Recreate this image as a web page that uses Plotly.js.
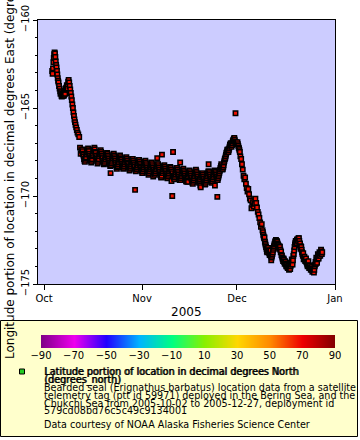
<!DOCTYPE html>
<html>
<head>
<meta charset="utf-8">
<script src="https://cdn.plot.ly/plotly-3.0.1.min.js"></script>
<style>html,body{margin:0;padding:0;background:#fff;}#chart{width:360px;height:440px;}</style>
</head>
<body>
<div id="chart"></div>
<script>
// ---- data (time, longitude in degrees East) ----
const octTimes = [
'2005-10-03 14','2005-10-03 17','2005-10-03 20','2005-10-03 23',
'2005-10-04 02','2005-10-04 05','2005-10-04 08','2005-10-04 11','2005-10-04 14','2005-10-04 17','2005-10-04 20','2005-10-04 23',
'2005-10-05 02','2005-10-05 05','2005-10-05 08','2005-10-05 11','2005-10-05 14','2005-10-05 18','2005-10-05 22',
'2005-10-06 03','2005-10-06 05','2005-10-06 08','2005-10-06 10','2005-10-06 13','2005-10-06 15','2005-10-06 18','2005-10-06 20','2005-10-06 23',
'2005-10-07 01','2005-10-07 04','2005-10-07 06','2005-10-07 09','2005-10-07 11','2005-10-07 14','2005-10-07 16','2005-10-07 19','2005-10-07 21',
'2005-10-08 00','2005-10-08 02','2005-10-08 05','2005-10-08 07','2005-10-08 10','2005-10-08 12','2005-10-08 15','2005-10-08 19','2005-10-08 23',
'2005-10-09 03','2005-10-09 07','2005-10-09 11','2005-10-09 15','2005-10-09 19','2005-10-09 23',
'2005-10-10 03','2005-10-10 07','2005-10-10 11','2005-10-10 15','2005-10-10 19','2005-10-10 23',
'2005-10-11 04','2005-10-11 09','2005-10-11 14','2005-10-11 20',
'2005-10-12 03','2005-10-12 09','2005-10-12 14','2005-10-12 19',
'2005-10-13 01','2005-10-13 04','2005-10-13 07','2005-10-13 10','2005-10-13 13','2005-10-13 16','2005-10-13 19','2005-10-13 22',
'2005-10-14 01','2005-10-14 04','2005-10-14 07','2005-10-14 10','2005-10-14 13','2005-10-14 16','2005-10-14 19','2005-10-14 22',
'2005-10-15 01','2005-10-15 04','2005-10-15 07','2005-10-15 10','2005-10-15 13','2005-10-15 16','2005-10-15 19','2005-10-15 22',
'2005-10-16 01','2005-10-16 04','2005-10-16 07','2005-10-16 10','2005-10-16 13','2005-10-16 16','2005-10-16 19','2005-10-16 22',
'2005-10-17 01','2005-10-17 04','2005-10-17 07','2005-10-17 10','2005-10-17 13','2005-10-17 16','2005-10-17 19','2005-10-17 22',
'2005-10-18 01','2005-10-18 04','2005-10-18 07','2005-10-18 10','2005-10-18 13','2005-10-18 16','2005-10-18 19','2005-10-18 22',
'2005-10-19 01','2005-10-19 04','2005-10-19 07','2005-10-19 10','2005-10-19 13','2005-10-19 16','2005-10-19 19','2005-10-19 22',
'2005-10-20 01','2005-10-20 04','2005-10-20 07','2005-10-20 10','2005-10-20 13','2005-10-20 16','2005-10-20 19','2005-10-20 22',
'2005-10-21 01','2005-10-21 04','2005-10-21 07','2005-10-21 10','2005-10-21 13','2005-10-21 16','2005-10-21 19','2005-10-21 22',
'2005-10-22 01','2005-10-22 04','2005-10-22 07','2005-10-22 10','2005-10-22 13','2005-10-22 16','2005-10-22 19','2005-10-22 22',
'2005-10-23 01','2005-10-23 04','2005-10-23 07','2005-10-23 10','2005-10-23 13','2005-10-23 16','2005-10-23 19','2005-10-23 22',
'2005-10-24 01','2005-10-24 04','2005-10-24 07','2005-10-24 10','2005-10-24 13','2005-10-24 16','2005-10-24 19','2005-10-24 22',
'2005-10-25 01','2005-10-25 04','2005-10-25 07','2005-10-25 10','2005-10-25 13','2005-10-25 16','2005-10-25 19','2005-10-25 22',
'2005-10-26 01','2005-10-26 04','2005-10-26 07','2005-10-26 10','2005-10-26 13','2005-10-26 16','2005-10-26 19','2005-10-26 22',
'2005-10-27 01','2005-10-27 04','2005-10-27 07','2005-10-27 10','2005-10-27 13','2005-10-27 16','2005-10-27 19','2005-10-27 22',
'2005-10-28 01','2005-10-28 04','2005-10-28 07','2005-10-28 10','2005-10-28 13','2005-10-28 16','2005-10-28 19','2005-10-28 22',
'2005-10-29 01','2005-10-29 04','2005-10-29 07','2005-10-29 10','2005-10-29 13','2005-10-29 16','2005-10-29 19','2005-10-29 22',
'2005-10-30 01','2005-10-30 04','2005-10-30 07','2005-10-30 10','2005-10-30 13','2005-10-30 16','2005-10-30 19','2005-10-30 22',
'2005-10-31 01','2005-10-31 04','2005-10-31 07','2005-10-31 10','2005-10-31 13','2005-10-31 16','2005-10-31 19','2005-10-31 22'
];
const octLons = [
-162.9,-163.05,-162.75,-162.4,
-162.15,-161.95,-161.85,-161.9,-162.1,-162.35,-162.55,-162.7,
-162.9,-163.1,-163.3,-163.45,-163.55,-163.75,-163.9,
-164.05,-164.2,-164.15,-164.1,-164.3,-164.35,-164.2,-164.25,-164.3,
-164.2,-164.15,-164.3,-164.25,-164.1,-164.05,-164.2,-163.95,-163.9,
-163.85,-163.95,-163.7,-163.8,-163.75,-163.9,-163.5,-163.4,-163.55,
-163.75,-163.95,-164.15,-164.35,-164.55,-164.8,
-165.0,-165.25,-165.45,-165.65,-165.8,-165.95,
-166.1,-166.25,-166.4,-166.5,
-166.65,-167.25,-167.6,-167.4,
-167.35,-167.45,-167.6,-167.65,-167.75,-167.9,-168.0,-168.05,
-167.95,-167.85,-167.8,-167.65,-167.55,-167.5,-167.4,-167.3,
-167.4,-167.45,-167.6,-167.7,-167.8,-167.85,-168.0,-168.1,
-168.0,-167.9,-167.75,-167.7,-167.6,-167.45,-167.35,-167.25,
-167.35,-167.5,-167.55,-167.7,-167.8,-167.9,-168.0,-168.15,
-168.05,-167.95,-167.9,-167.75,-167.65,-167.6,-167.5,-167.4,
-167.5,-167.6,-167.7,-167.8,-167.85,-168.0,-168.1,-168.2,
-168.15,-168.05,-167.95,-167.9,-167.8,-167.7,-167.65,-167.55,
-167.6,-167.7,-167.8,-167.9,-168.0,-168.1,-168.2,-168.3,
-168.7,-168.25,-168.15,-168.05,-167.95,-167.85,-167.75,-167.65,
-167.6,-167.7,-167.8,-167.9,-168.0,-168.1,-168.2,-168.35,
-168.45,-168.35,-168.3,-168.2,-168.1,-168.0,-167.9,-167.8,
-167.7,-167.8,-167.9,-167.95,-168.05,-168.15,-168.25,-168.35,
-168.45,-168.4,-168.3,-168.2,-168.1,-168.0,-167.9,-167.85,
-167.8,-167.9,-168.0,-168.1,-168.15,-168.25,-168.35,-168.45,
-168.55,-168.45,-168.4,-168.3,-168.2,-168.1,-168.0,-167.9,
-167.9,-168.0,-168.1,-168.2,-168.25,-168.35,-169.65,-168.5,
-168.6,-168.5,-168.45,-168.35,-168.25,-168.15,-168.05,-167.95,
-167.95,-168.05,-168.15,-168.25,-168.35,-168.4,-168.5,-168.6
];
const novTimes = [
'2005-11-01 01','2005-11-01 04','2005-11-01 07','2005-11-01 10','2005-11-01 13','2005-11-01 16','2005-11-01 19','2005-11-01 22',
'2005-11-02 01','2005-11-02 04','2005-11-02 07','2005-11-02 10','2005-11-02 13','2005-11-02 16','2005-11-02 19','2005-11-02 22',
'2005-11-03 01','2005-11-03 04','2005-11-03 07','2005-11-03 10','2005-11-03 13','2005-11-03 16','2005-11-03 19','2005-11-03 22',
'2005-11-04 01','2005-11-04 04','2005-11-04 07','2005-11-04 10','2005-11-04 13','2005-11-04 16','2005-11-04 19','2005-11-04 22',
'2005-11-05 01','2005-11-05 04','2005-11-05 07','2005-11-05 10','2005-11-05 13','2005-11-05 16','2005-11-05 19','2005-11-05 22',
'2005-11-06 01','2005-11-06 04','2005-11-06 07','2005-11-06 10','2005-11-06 13','2005-11-06 16','2005-11-06 19','2005-11-06 22',
'2005-11-07 01','2005-11-07 04','2005-11-07 07','2005-11-07 10','2005-11-07 13','2005-11-07 16','2005-11-07 19','2005-11-07 22',
'2005-11-08 01','2005-11-08 04','2005-11-08 07','2005-11-08 10','2005-11-08 13','2005-11-08 16','2005-11-08 19','2005-11-08 22',
'2005-11-09 01','2005-11-09 04','2005-11-09 07','2005-11-09 10','2005-11-09 13','2005-11-09 16','2005-11-09 19','2005-11-09 22',
'2005-11-10 01','2005-11-10 04','2005-11-10 07','2005-11-10 10','2005-11-10 13','2005-11-10 16','2005-11-10 19','2005-11-10 22',
'2005-11-11 01','2005-11-11 04','2005-11-11 07','2005-11-11 10','2005-11-11 13','2005-11-11 16','2005-11-11 19','2005-11-11 22',
'2005-11-12 01','2005-11-12 04','2005-11-12 07','2005-11-12 10','2005-11-12 13','2005-11-12 16','2005-11-12 19','2005-11-12 22',
'2005-11-13 01','2005-11-13 04','2005-11-13 07','2005-11-13 10','2005-11-13 13','2005-11-13 16','2005-11-13 19','2005-11-13 22',
'2005-11-14 01','2005-11-14 04','2005-11-14 07','2005-11-14 10','2005-11-14 13','2005-11-14 16','2005-11-14 19','2005-11-14 22',
'2005-11-15 01','2005-11-15 04','2005-11-15 07','2005-11-15 10','2005-11-15 13','2005-11-15 16','2005-11-15 19','2005-11-15 22',
'2005-11-16 01','2005-11-16 04','2005-11-16 07','2005-11-16 10','2005-11-16 13','2005-11-16 16','2005-11-16 19','2005-11-16 22',
'2005-11-17 01','2005-11-17 04','2005-11-17 07','2005-11-17 10','2005-11-17 13','2005-11-17 16','2005-11-17 19','2005-11-17 22',
'2005-11-18 01','2005-11-18 04','2005-11-18 07','2005-11-18 10','2005-11-18 13','2005-11-18 16','2005-11-18 19','2005-11-18 22',
'2005-11-19 01','2005-11-19 04','2005-11-19 07','2005-11-19 10','2005-11-19 13','2005-11-19 16','2005-11-19 19','2005-11-19 22',
'2005-11-20 01','2005-11-20 04','2005-11-20 07','2005-11-20 10','2005-11-20 13','2005-11-20 16','2005-11-20 19','2005-11-20 22',
'2005-11-21 01','2005-11-21 04','2005-11-21 07','2005-11-21 10','2005-11-21 13','2005-11-21 16','2005-11-21 19','2005-11-21 22',
'2005-11-22 01','2005-11-22 04','2005-11-22 07','2005-11-22 10','2005-11-22 13','2005-11-22 16','2005-11-22 19','2005-11-22 22',
'2005-11-23 01','2005-11-23 04','2005-11-23 07','2005-11-23 10','2005-11-23 13','2005-11-23 16','2005-11-23 19','2005-11-23 22',
'2005-11-24 01','2005-11-24 04','2005-11-24 07','2005-11-24 10','2005-11-24 13','2005-11-24 16','2005-11-24 19','2005-11-24 22',
'2005-11-25 01','2005-11-25 04','2005-11-25 07','2005-11-25 10','2005-11-25 13','2005-11-25 16','2005-11-25 19','2005-11-25 22',
'2005-11-26 01','2005-11-26 04','2005-11-26 07','2005-11-26 10','2005-11-26 13','2005-11-26 16','2005-11-26 19','2005-11-26 22',
'2005-11-27 01','2005-11-27 04','2005-11-27 07','2005-11-27 10','2005-11-27 13','2005-11-27 16','2005-11-27 19','2005-11-27 22',
'2005-11-28 01','2005-11-28 04','2005-11-28 07','2005-11-28 10','2005-11-28 13','2005-11-28 16','2005-11-28 19','2005-11-28 22',
'2005-11-29 01','2005-11-29 04','2005-11-29 07','2005-11-29 10','2005-11-29 13','2005-11-29 16','2005-11-29 19','2005-11-29 22',
'2005-11-30 01','2005-11-30 04','2005-11-30 07','2005-11-30 10','2005-11-30 13','2005-11-30 16','2005-11-30 19','2005-11-30 22'
];
const novLons = [
-168.7,-168.6,-168.5,-168.45,-168.35,-168.25,-168.15,-168.05,
-168.0,-168.1,-168.2,-168.3,-168.4,-168.5,-168.6,-168.7,
-168.8,-168.7,-168.6,-168.5,-168.45,-168.35,-168.25,-168.15,
-168.1,-168.2,-168.3,-168.4,-168.9,-168.5,-168.6,-168.7,
-168.8,-168.7,-168.6,-168.5,-168.4,-168.3,-167.85,-168.2,
-168.2,-168.3,-168.4,-168.5,-168.6,-168.7,-168.8,-168.9,
-168.95,-168.85,-167.65,-168.7,-168.6,-168.5,-168.4,-168.3,
-168.25,-168.35,-168.45,-168.55,-168.65,-168.75,-168.85,-168.95,
-169.0,-168.9,-168.8,-168.7,-168.6,-168.5,-168.4,-168.35,
-168.4,-168.5,-169.15,-168.6,-170.0,-168.7,-167.5,-168.85,
-168.95,-169.05,-168.95,-168.85,-168.75,-168.65,-168.55,-168.45,
-168.4,-168.5,-168.6,-168.7,-168.8,-168.9,-169.0,-169.1,
-168.1,-169.1,-169.0,-168.9,-168.8,-168.7,-168.6,-168.5,
-168.45,-168.55,-168.65,-168.75,-168.85,-168.95,-169.05,-169.15,
-169.2,-169.1,-169.0,-168.9,-169.2,-168.8,-168.7,-168.6,
-168.55,-168.65,-168.75,-168.85,-168.95,-169.05,-169.15,-169.25,
-169.3,-169.2,-169.1,-169.0,-168.9,-168.8,-168.7,-168.6,
-168.5,-168.6,-168.7,-168.8,-168.9,-169.0,-169.1,-169.2,
-169.25,-169.15,-169.05,-169.4,-169.5,-168.95,-168.85,-168.75,
-168.7,-168.8,-168.9,-169.0,-169.1,-169.2,-169.3,-169.35,
-169.3,-169.2,-169.1,-169.0,-168.9,-168.8,-168.7,-168.6,
-168.2,-168.6,-168.7,-168.8,-168.9,-169.0,-169.1,-169.2,
-169.25,-169.15,-169.05,-168.95,-168.85,-168.75,-168.65,-168.55,
-169.4,-168.6,-168.7,-168.8,-168.9,-169.0,-170.05,-169.1,
-169.0,-168.9,-168.8,-168.7,-168.6,-168.5,-168.4,-168.3,
-168.2,-168.3,-168.4,-168.5,-168.45,-168.35,-168.25,-168.1,
-168.0,-167.9,-167.85,-167.75,-167.65,-167.55,-167.5,-167.4,
-167.35,-167.45,-167.5,-167.4,-167.3,-167.2,-167.1,-167.05,
-167.0,-167.1,-167.2,-167.1,-167.0,-166.9,-166.85,-166.8,
-166.75,-166.7,-166.8,-166.9,-165.3,-166.95,-167.0,-167.05
];
const decTimes = [
'2005-12-01 01','2005-12-01 04','2005-12-01 07','2005-12-01 10','2005-12-01 13','2005-12-01 16','2005-12-01 19','2005-12-01 22',
'2005-12-02 02','2005-12-02 08','2005-12-02 14','2005-12-02 20',
'2005-12-03 02','2005-12-03 08','2005-12-03 14','2005-12-03 20',
'2005-12-04 02','2005-12-04 08','2005-12-04 14','2005-12-04 20',
'2005-12-05 02','2005-12-05 08','2005-12-05 14','2005-12-05 20',
'2005-12-06 02','2005-12-06 08','2005-12-06 14','2005-12-06 20',
'2005-12-07 02','2005-12-07 08','2005-12-07 14','2005-12-07 20',
'2005-12-08 02','2005-12-08 08','2005-12-08 14','2005-12-08 20',
'2005-12-09 02','2005-12-09 05','2005-12-09 08','2005-12-09 11','2005-12-09 14','2005-12-09 17','2005-12-09 20','2005-12-09 23',
'2005-12-10 02','2005-12-10 05','2005-12-10 08','2005-12-10 11','2005-12-10 14','2005-12-10 17','2005-12-10 20','2005-12-10 23',
'2005-12-11 02','2005-12-11 05','2005-12-11 08','2005-12-11 11','2005-12-11 14','2005-12-11 17','2005-12-11 20','2005-12-11 23',
'2005-12-12 02','2005-12-12 05','2005-12-12 08','2005-12-12 11','2005-12-12 14','2005-12-12 17','2005-12-12 20','2005-12-12 23',
'2005-12-13 02','2005-12-13 05','2005-12-13 08','2005-12-13 11','2005-12-13 14','2005-12-13 17','2005-12-13 20','2005-12-13 23',
'2005-12-14 02','2005-12-14 05','2005-12-14 08','2005-12-14 11','2005-12-14 14','2005-12-14 17','2005-12-14 20','2005-12-14 23',
'2005-12-15 02','2005-12-15 05','2005-12-15 08','2005-12-15 11','2005-12-15 14','2005-12-15 17','2005-12-15 20','2005-12-15 23',
'2005-12-16 02','2005-12-16 05','2005-12-16 08','2005-12-16 11','2005-12-16 14','2005-12-16 17','2005-12-16 20','2005-12-16 23',
'2005-12-17 02','2005-12-17 05','2005-12-17 08','2005-12-17 11','2005-12-17 14','2005-12-17 17','2005-12-17 20','2005-12-17 23',
'2005-12-18 02','2005-12-18 05','2005-12-18 08','2005-12-18 11','2005-12-18 14','2005-12-18 17','2005-12-18 20','2005-12-18 23',
'2005-12-19 02','2005-12-19 05','2005-12-19 08','2005-12-19 11','2005-12-19 14','2005-12-19 17','2005-12-19 20','2005-12-19 23',
'2005-12-20 02','2005-12-20 05','2005-12-20 08','2005-12-20 11','2005-12-20 14','2005-12-20 17','2005-12-20 20','2005-12-20 23',
'2005-12-21 02','2005-12-21 05','2005-12-21 08','2005-12-21 11','2005-12-21 14','2005-12-21 17','2005-12-21 20','2005-12-21 23',
'2005-12-22 02','2005-12-22 05','2005-12-22 08','2005-12-22 11','2005-12-22 14','2005-12-22 17','2005-12-22 20','2005-12-22 23',
'2005-12-23 02','2005-12-23 05','2005-12-23 08','2005-12-23 11','2005-12-23 14','2005-12-23 17','2005-12-23 20','2005-12-23 23',
'2005-12-24 02','2005-12-24 05','2005-12-24 08','2005-12-24 11','2005-12-24 14','2005-12-24 17','2005-12-24 20','2005-12-24 23',
'2005-12-25 02','2005-12-25 05','2005-12-25 08','2005-12-25 11','2005-12-25 14','2005-12-25 17','2005-12-25 20','2005-12-25 23',
'2005-12-26 02','2005-12-26 05','2005-12-26 08','2005-12-26 11','2005-12-26 14','2005-12-26 17','2005-12-26 20','2005-12-26 23',
'2005-12-27 02','2005-12-27 05','2005-12-27 08','2005-12-27 11','2005-12-27 14','2005-12-27 17','2005-12-27 20','2005-12-27 23'
];
const decLons = [
-167.0,-166.95,-167.05,-167.15,-167.25,-167.3,-167.4,-167.5,
-167.75,-167.9,-168.2,-168.5,
-168.85,-169.05,-168.95,-169.3,
-169.55,-169.75,-169.6,-169.9,
-170.15,-170.25,-170.7,-170.5,
-170.35,-170.6,-170.45,-170.15,
-170.4,-170.65,-170.9,-171.05,
-171.25,-171.5,-171.75,-171.6,
-171.95,-172.05,-172.2,-172.3,-172.4,-172.35,-172.6,-172.7,
-172.8,-172.9,-173.0,-173.15,-173.2,-173.05,-172.95,-173.1,
-173.1,-173.25,-173.35,-173.2,-173.1,-173.4,-173.65,-173.5,
-173.4,-173.3,-173.2,-173.05,-172.95,-172.85,-172.75,-172.7,
-172.6,-172.55,-172.5,-172.65,-172.55,-172.6,-172.7,-172.75,
-172.8,-172.9,-173.0,-172.85,-172.9,-173.05,-173.2,-173.15,
-173.35,-173.4,-173.5,-173.6,-173.7,-173.55,-173.6,-173.75,
-173.85,-173.7,-173.75,-173.9,-174.0,-173.85,-173.9,-174.05,
-174.1,-173.95,-174.05,-174.2,-173.95,-174.1,-174.15,-174.0,
-173.8,-173.9,-173.6,-173.75,-173.9,-173.65,-173.4,-173.3,
-173.1,-172.9,-172.75,-172.65,-172.55,-172.6,-172.7,-172.5,
-172.45,-172.5,-172.6,-172.4,-172.4,-172.55,-172.8,-172.7,
-173.0,-172.85,-172.9,-173.05,-173.2,-173.3,-173.4,-173.25,
-173.6,-173.5,-173.45,-173.6,-173.7,-173.65,-173.55,-173.75,
-173.8,-173.9,-174.0,-173.85,-173.7,-173.95,-174.1,-174.0,
-173.95,-174.1,-174.2,-174.05,-174.05,-174.2,-174.3,-174.15,
-174.15,-174.25,-174.35,-174.2,-174.0,-173.9,-173.75,-173.85,
-173.5,-173.65,-173.8,-173.6,-173.3,-173.45,-173.55,-173.4,
-173.2,-173.3,-173.4,-173.25,-173.05,-173.15,-173.3,-173.2
];
const xTickVals = ['2005-10-01','2005-11-01','2005-12-01','2006-01-01'];
const xTickText = ['Oct','Nov','Dec','Jan'];
const yTickVals = [-175,-170,-165,-160];
const colorbarTicks = [-90,-70,-50,-30,-10,10,30,50,70,90];
const colorbarColors = ['#800088','#ee00ee','#2200ff','#00b4ff','#00ff80','#88f000','#ffd700','#ff8800','#ee0000','#800000'];
const legendLines = [
  'Latitude portion of location in decimal degrees North',
  '(degrees_north)',
  'Bearded seal (Erignathus barbatus) location data from a satellite',
  'telemetry tag (ptt id 59971) deployed in the Bering Sea, and the',
  'Chukchi Sea from 2005-10-02 to 2005-12-27, deployment id',
  '579cd08bd76c5c49c9134001',
  'Data courtesy of NOAA Alaska Fisheries Science Center'
];
const legendBold = [true,true,false,false,false,false,false];

// ---- layout helpers (pixel -> paper) ----
const W = 360, H = 440;
const px = v => v / W;
const py = v => 1 - v / H;
const FONT = 'DejaVu Sans, Verdana, sans-serif';
const lineBaselines = [375, 383, 391, 399, 406.7, 414.3, 428.3];

const annotations = legendLines.map((t, i) => ({
  text: t, xref: 'paper', yref: 'paper', x: px(42.7), y: py(lineBaselines[i] - 3.4),
  xanchor: 'left', yanchor: 'middle', showarrow: false, borderpad: 0,
  font: legendBold[i]
    ? {family: FONT, size: 9.6, color: '#000', shadow: '0.8px 0px 0px #000'}
    : {family: FONT, size: 9.6, color: '#000'}
}));

const n = colorbarTicks.length;
const colorscale = colorbarColors.map((c, i) => [(colorbarTicks[i] - colorbarTicks[0]) / (colorbarTicks[n-1] - colorbarTicks[0]), c]);

const allTimes = octTimes.concat(novTimes, decTimes);
const allLons = octLons.concat(novLons, decLons);

const traces = [
  {
    type: 'scatter', mode: 'markers', x: allTimes, y: allLons,
    xaxis: 'x', yaxis: 'y', hoverinfo: 'x+y',
    marker: {symbol: 'square', size: 4.4, color: '#f01000', line: {color: '#000', width: 1.5}},
    showlegend: false
  },
  {
    type: 'heatmap', x: colorbarTicks, y: [0], z: [colorbarTicks],
    xaxis: 'x2', yaxis: 'y2', zsmooth: 'best', colorscale: colorscale,
    zmin: colorbarTicks[0], zmax: colorbarTicks[n-1], showscale: false, hoverinfo: 'skip'
  }
];

const layout = {
  width: W, height: H,
  margin: {l: 0, r: 0, t: 0, b: 0, pad: 0},
  paper_bgcolor: '#ffffff',
  plot_bgcolor: '#ccccff',
  font: {family: FONT, size: 10, color: '#000'},
  showlegend: false,
  xaxis: {
    type: 'date', domain: [px(37.7), px(335)], anchor: 'y',
    range: ['2005-09-29', '2006-01-01'],
    tickmode: 'array', tickvals: xTickVals, ticktext: xTickText,
    ticks: 'outside', ticklen: 5, tickwidth: 1, tickcolor: '#000',
    showline: true, linecolor: '#000', linewidth: 1, mirror: true,
    showgrid: false, zeroline: false, automargin: false,
    tickfont: {family: FONT, size: 10, color: '#000'},
    title: {text: '2005', font: {family: FONT, size: 12, color: '#000'}, standoff: 4}
  },
  yaxis: {
    domain: [py(284), py(20)], anchor: 'x',
    range: [-175, -160],
    tickmode: 'array', tickvals: yTickVals,
    ticks: 'outside', ticklen: 4, tickwidth: 1, tickcolor: '#000', tickangle: -90,
    minor: {tickmode: 'linear', tick0: -175, dtick: 1, ticks: 'outside', ticklen: 2, tickcolor: '#000', showgrid: false},
    showline: true, linecolor: '#000', linewidth: 1, mirror: true,
    showgrid: false, zeroline: false, automargin: false,
    tickfont: {family: FONT, size: 10, color: '#000'},
    title: {text: 'Longitude portion of location in decimal degrees East (degrees_east)', font: {family: FONT, size: 12, color: '#000'}, standoff: 2}
  },
  xaxis2: {
    domain: [px(41), px(335)], anchor: 'y2', range: [colorbarTicks[0], colorbarTicks[n-1]],
    tickmode: 'array', tickvals: colorbarTicks, ticks: '', showline: false,
    showgrid: false, zeroline: false, automargin: false, fixedrange: true,
    tickfont: {family: FONT, size: 10, color: '#000'}
  },
  yaxis2: {
    domain: [py(348), py(335)], anchor: 'x2', range: [-0.5, 0.5],
    visible: false, fixedrange: true
  },
  shapes: [
    {type: 'rect', xref: 'paper', yref: 'paper', layer: 'below',
     x0: px(0.5), x1: px(357.5), y0: py(436.5), y1: py(320.5),
     fillcolor: '#ffffcc', line: {color: '#000', width: 1}},
    {type: 'rect', xref: 'paper', yref: 'paper', layer: 'above',
     x0: px(19.5), x1: px(24.5), y0: py(374), y1: py(369),
     fillcolor: '#22cc22', line: {color: '#000', width: 1}}
  ],
  annotations: annotations
};

Plotly.newPlot('chart', traces, layout, {staticPlot: true, displayModeBar: false});
</script>
</body>
</html>
